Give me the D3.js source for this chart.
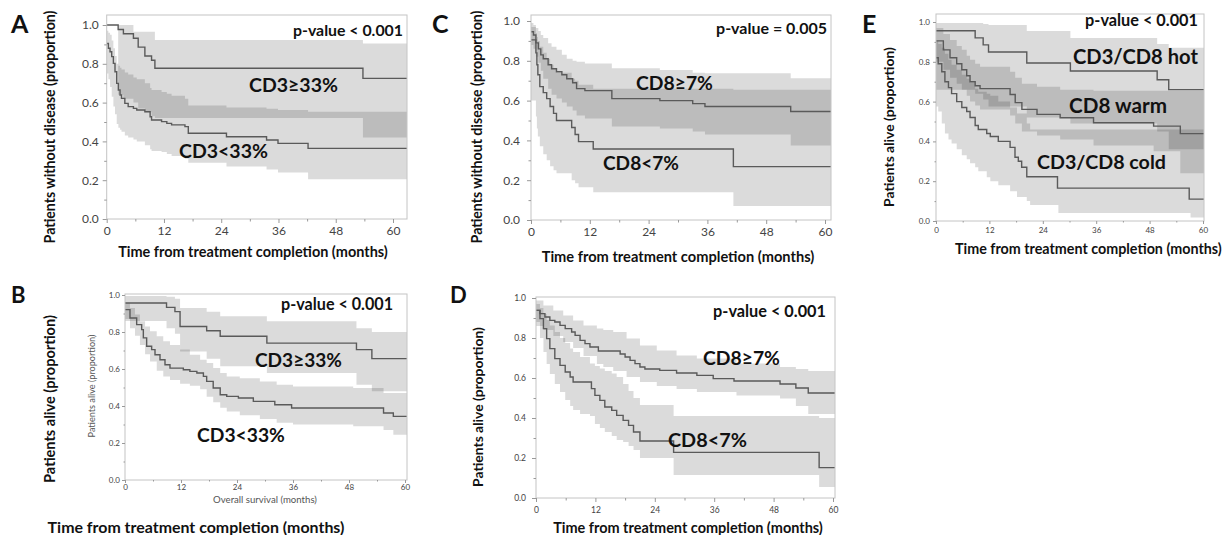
<!DOCTYPE html>
<html>
<head>
<meta charset="utf-8">
<script src="https://cdn.jsdelivr.net/npm/d3@7"></script>
<style>
  body { margin: 0; background: #fff; }
  svg { display: block; }
  text { font-family: Lato, "Open Sans", sans-serif; }
</style>
</head>
<body>
<svg id="chart" width="1223" height="535"></svg>
<script>
// Axis ticks shared by all five panels
var xTicks = [0, 12, 24, 36, 48, 60];
var xMinor = [6, 18, 30, 42, 54];
var yTicks = [0, 0.2, 0.4, 0.6, 0.8, 1.0];
var yMinor = [0.1, 0.3, 0.5, 0.7, 0.9];

/*
 * DATA (months, proportion)
 * curves: [t, S]   bands: [t, lower, upper]
 * =============================== */

// A: disease free, CD3
var aHiSurv = [[0,1.0],[2.4,0.977],[3.5,0.955],[5.6,0.932],[6.6,0.886],[8.0,0.84],[9.4,0.818],[10.1,0.777],[53.7,0.725]];
var aHiBand = [[2.4,0.64,1.0],[3.5,0.62,1.0],[5.6,0.6,0.965],[6.6,0.57,0.965],[8.0,0.55,0.965],[9.4,0.53,0.965],[10.1,0.52,0.923],[53.7,0.42,0.905]];
var aLoSurv = [[0,0.905],[0.35,0.88],[0.7,0.862],[1.05,0.837],[1.4,0.802],[1.74,0.759],[2.1,0.699],[2.44,0.665],[2.8,0.639],[3.1,0.622],[3.8,0.596],[4.5,0.579],[5.6,0.57],[6.3,0.562],[8.0,0.553],[9.1,0.527],[9.4,0.51],[11.5,0.502],[12.6,0.493],[13.6,0.485],[16.4,0.476],[17.1,0.442],[25.1,0.424],[33.5,0.407],[35.9,0.39],[42.2,0.364]];
var aLoBand = [[0,0.75,0.97],[0.35,0.72,0.96],[0.7,0.68,0.95],[1.05,0.63,0.92],[1.4,0.58,0.88],[1.74,0.54,0.84],[2.1,0.49,0.80],[2.44,0.47,0.79],[2.8,0.46,0.78],[3.1,0.45,0.77],[3.8,0.43,0.755],[4.5,0.42,0.745],[5.6,0.41,0.73],[6.3,0.4,0.72],[8.0,0.38,0.70],[9.1,0.36,0.675],[9.4,0.35,0.665],[11.5,0.345,0.655],[12.6,0.335,0.645],[13.6,0.325,0.635],[16.4,0.31,0.62],[17.1,0.29,0.585],[25.1,0.27,0.575],[33.5,0.255,0.568],[35.9,0.24,0.562],[42.2,0.205,0.553]];

// C: disease free, CD8
var cHiSurv = [[0,0.946],[0.5,0.93],[1,0.89],[1.5,0.86],[2,0.83],[2.5,0.81],[3.5,0.78],[4.2,0.76],[5.2,0.745],[6.3,0.73],[7.3,0.71],[8.5,0.69],[9.3,0.66],[11,0.65],[16.5,0.61],[26.3,0.60],[33,0.585],[35.5,0.57],[53,0.545]];
var cHiBand = [[0,0.88,0.99],[0.5,0.86,0.98],[1,0.82,0.965],[1.5,0.79,0.95],[2,0.75,0.93],[2.5,0.71,0.915],[3.5,0.66,0.888],[4.2,0.63,0.87],[5.2,0.61,0.855],[6.3,0.59,0.83],[7.3,0.57,0.81],[8.5,0.55,0.80],[9.3,0.525,0.795],[11,0.51,0.787],[16.5,0.47,0.762],[26.3,0.46,0.754],[33,0.445,0.74],[35.5,0.43,0.737],[53,0.375,0.712]];
var cLoSurv = [[0,0.905],[1.0,0.84],[1.2,0.78],[1.4,0.73],[1.8,0.67],[2.5,0.64],[3.2,0.61],[3.9,0.57],[4.6,0.536],[5.2,0.50],[8.3,0.465],[9.0,0.43],[9.7,0.394],[12.7,0.357],[41.3,0.268]];
var cLoBand = [[0,0.6,0.97],[1.0,0.52,0.94],[1.2,0.46,0.92],[1.4,0.42,0.90],[1.8,0.37,0.87],[2.5,0.33,0.84],[3.2,0.3,0.81],[3.9,0.27,0.78],[4.6,0.25,0.76],[5.2,0.235,0.74],[8.3,0.2,0.71],[9.0,0.185,0.70],[9.7,0.165,0.68],[12.7,0.14,0.66],[41.3,0.07,0.655]];

// E: overall survival, hot / warm / cold
var eHotSurv = [[0,0.956],[8.8,0.92],[10.6,0.885],[11.8,0.849],[20.4,0.794],[30.2,0.754],[49.7,0.71],[52.3,0.66]];
var eHotBand = [[0,0.66,0.995],[8.8,0.64,0.995],[10.6,0.61,0.99],[11.8,0.575,0.985],[20.4,0.52,0.955],[30.2,0.49,0.92],[49.7,0.45,0.89],[52.3,0.36,0.87]];
var eWarmSurv = [[0,0.905],[1.65,0.86],[3.15,0.82],[4.65,0.79],[5.8,0.76],[6.9,0.73],[7.65,0.70],[8.8,0.68],[9.9,0.665],[16.65,0.636],[17.8,0.595],[19.3,0.561],[22.7,0.536],[27.9,0.519],[35.4,0.494],[48.9,0.477],[54.9,0.439]];
var eWarmBand = [[0,0.80,0.97],[1.65,0.76,0.94],[3.15,0.72,0.91],[4.65,0.69,0.88],[5.8,0.66,0.86],[6.9,0.63,0.83],[7.65,0.60,0.81],[8.8,0.58,0.79],[9.9,0.56,0.775],[16.65,0.53,0.75],[17.8,0.49,0.72],[19.3,0.45,0.69],[22.7,0.43,0.675],[27.9,0.41,0.66],[35.4,0.38,0.655],[48.9,0.35,0.655],[54.9,0.24,0.655]];
var eColdSurv = [[0,0.82],[0.5,0.79],[1.3,0.75],[2,0.70],[2.8,0.67],[3.5,0.64],[4.65,0.60],[5.8,0.57],[6.9,0.55],[7.65,0.52],[8.8,0.48],[9.5,0.46],[11.4,0.44],[12.2,0.425],[14,0.40],[16.65,0.37],[17.75,0.32],[18.5,0.30],[19.25,0.27],[20.4,0.222],[27.3,0.165],[56.9,0.11]];
var eColdBand = [[0,0.575,0.905],[0.5,0.55,0.89],[1.3,0.49,0.87],[2,0.44,0.84],[2.8,0.41,0.81],[3.5,0.39,0.785],[4.65,0.36,0.76],[5.8,0.33,0.735],[6.9,0.31,0.715],[7.65,0.29,0.695],[8.8,0.27,0.665],[9.5,0.25,0.65],[11.4,0.22,0.64],[12.2,0.2,0.63],[14,0.18,0.60],[16.65,0.15,0.57],[18.2,0.12,0.54],[20.4,0.1,0.49],[21.15,0.08,0.46],[27.5,0.04,0.46],[57.2,0.017,0.46]];

// B: overall survival, CD3
var bHiSurv = [[0,0.957],[8.9,0.933],[10.7,0.91],[11.8,0.83],[17.5,0.807],[20.4,0.777],[30.4,0.74],[49.6,0.705],[52.9,0.656]];
var bHiBand = [[0,0.86,0.995],[8.9,0.82,0.99],[10.7,0.79,0.98],[11.8,0.695,0.93],[17.5,0.655,0.91],[20.4,0.615,0.885],[30.4,0.578,0.858],[49.6,0.515,0.82],[52.9,0.48,0.80]];
var bLoSurv = [[0,0.921],[1.07,0.876],[2.5,0.84],[3.57,0.813],[3.93,0.768],[4.64,0.723],[5.71,0.705],[6.43,0.677],[7.5,0.65],[8.57,0.623],[9.64,0.605],[12.5,0.596],[13.9,0.587],[15.4,0.578],[16.8,0.56],[17.5,0.533],[18.9,0.497],[20.4,0.461],[21.8,0.452],[24.3,0.443],[27.5,0.425],[32.1,0.407],[35.7,0.389],[55.4,0.362],[57.5,0.344]];
var bLoBand = [[0,0.87,0.957],[1.07,0.82,0.93],[2.14,0.78,0.894],[3.2,0.73,0.858],[4.3,0.68,0.83],[5.36,0.64,0.804],[6.8,0.59,0.777],[8.2,0.56,0.75],[9.64,0.54,0.73],[11.8,0.52,0.705],[13.9,0.51,0.677],[16.1,0.49,0.65],[17.5,0.45,0.632],[18.9,0.42,0.605],[20.4,0.39,0.578],[21.8,0.37,0.56],[24.6,0.35,0.55],[28.9,0.33,0.533],[32.5,0.31,0.515],[36,0.30,0.506],[48.9,0.29,0.497],[55.4,0.27,0.47],[57.5,0.245,0.47]];

// D: overall survival, CD8
var dHiSurv = [[0,0.938],[0.8,0.922],[1.8,0.905],[2.8,0.888],[3.8,0.88],[4.85,0.863],[5.9,0.847],[7.2,0.83],[7.9,0.813],[8.9,0.788],[9.9,0.772],[10.9,0.755],[12.6,0.735],[17,0.72],[18,0.705],[19,0.688],[20,0.672],[21,0.655],[22,0.645],[25,0.638],[28.4,0.625],[32.5,0.613],[35.8,0.597],[40,0.585],[49.3,0.57],[52.5,0.55],[55,0.525]];
var dHiBand = [[0,0.86,0.988],[1.5,0.84,0.963],[3.5,0.81,0.938],[5.5,0.78,0.913],[7.5,0.75,0.888],[9.6,0.71,0.863],[12.3,0.67,0.847],[13.6,0.655,0.84],[15.6,0.635,0.83],[18.3,0.605,0.797],[21,0.58,0.763],[24.4,0.56,0.738],[28.4,0.545,0.713],[32.5,0.53,0.697],[40.5,0.513,0.672],[49.3,0.497,0.655],[52.5,0.46,0.645],[55,0.42,0.635]];
var dLoSurv = [[0,0.938],[0.8,0.897],[1.5,0.847],[2.15,0.797],[2.8,0.747],[3.8,0.697],[4.85,0.663],[5.9,0.63],[6.9,0.605],[7.5,0.58],[11.2,0.547],[11.9,0.513],[12.9,0.488],[13.9,0.455],[15.3,0.438],[16.3,0.413],[17.6,0.388],[18.7,0.363],[19.7,0.33],[21,0.285],[27.8,0.228],[57.2,0.152]];
var dLoBand = [[0,0.88,0.97],[0.8,0.8,0.95],[1.5,0.73,0.92],[2.15,0.67,0.89],[2.8,0.62,0.863],[3.8,0.57,0.83],[4.85,0.53,0.80],[5.9,0.49,0.775],[6.9,0.46,0.747],[7.5,0.44,0.73],[8.9,0.42,0.705],[10.9,0.41,0.672],[11.9,0.37,0.66],[12.9,0.35,0.647],[13.9,0.33,0.635],[15.3,0.31,0.622],[16.3,0.29,0.605],[17.6,0.28,0.57],[18.7,0.26,0.535],[19.7,0.24,0.50],[21,0.20,0.465],[27.8,0.115,0.41],[57.2,0.055,0.40]];

/*
 * PANEL LAYOUT
 * =============================== */
var panels = [
  { id: 'A', left: 106.7, right: 407, x60: 393, y0: 219, y1: 25, top: 15,
    bands: [aHiBand, aLoBand], curves: [aHiSurv, aLoSurv],
    tickFont: 12, xPad: 3, yPad: 4, tick: 4 },
  { id: 'C', left: 531, right: 831, x60: 825, y0: 220, y1: 21, top: 15,
    bands: [cHiBand, cLoBand], curves: [cHiSurv, cLoSurv],
    tickFont: 12, xPad: 3, yPad: 7, tick: 4 },
  { id: 'E', left: 936, right: 1204, x60: 1203, y0: 221, y1: 22, top: 14,
    bands: [eHotBand, eWarmBand, eColdBand], curves: [eHotSurv, eWarmSurv, eColdSurv],
    tickFont: 8, xPad: 3, yPad: 3, tick: 3 },
  { id: 'B', left: 125, right: 407, x60: 405, y0: 480, y1: 295, top: 294,
    bands: [bHiBand, bLoBand], curves: [bHiSurv, bLoSurv],
    tickFont: 8, xPad: 1, yPad: 2, tick: 3 },
  { id: 'D', left: 536, right: 835, x60: 833, y0: 498, y1: 298, top: 297,
    bands: [dHiBand, dLoBand], curves: [dHiSurv, dLoSurv],
    tickFont: 8.5, xPad: 5, yPad: 6, tick: 4 }
];

// Text: x, y = anchor point (baseline); w = target width in px
var labels = [
  { t: 'A', x: 11, y: 33, size: 25, bold: true },
  { t: 'Patients without disease (proportion)', x: 55, y: 127, rot: true, w: 233, bold: true },
  { t: 'Time from treatment completion (months)', x: 253, y: 257, w: 270, anchor: 'middle', bold: true },
  { t: 'p-value < 0.001', x: 403, y: 36, w: 110, anchor: 'end', bold: true },
  { t: 'CD3\u226533%', x: 249, y: 92, w: 89, bold: true },
  { t: 'CD3<33%', x: 179, y: 158, w: 89, bold: true },

  { t: 'C', x: 432, y: 33, size: 25, bold: true },
  { t: 'Patients without disease (proportion)', x: 482, y: 127, rot: true, w: 233, bold: true },
  { t: 'Time from treatment completion (months)', x: 678, y: 262, w: 273, anchor: 'middle', bold: true },
  { t: 'p-value = 0.005', x: 827, y: 34, w: 111, anchor: 'end', bold: true },
  { t: 'CD8\u22657%', x: 636, y: 90, w: 77, bold: true },
  { t: 'CD8<7%', x: 603, y: 170, w: 76, bold: true },

  { t: 'E', x: 862, y: 33, size: 25, bold: true },
  { t: 'Patients alive (proportion)', x: 894, y: 127, rot: true, w: 160, bold: true },
  { t: 'Time from treatment completion (months)', x: 955, y: 254, w: 267, bold: true },
  { t: 'p-value < 0.001', x: 1198, y: 26, w: 113, anchor: 'end', bold: true },
  { t: 'CD3/CD8 hot', x: 1073, y: 64, w: 125, bold: true },
  { t: 'CD8 warm', x: 1069, y: 113, w: 98, bold: true },
  { t: 'CD3/CD8 cold', x: 1037, y: 169, w: 129, bold: true },

  { t: 'B', x: 11, y: 303, size: 22, bold: true },
  { t: 'Patients alive (proportion)', x: 55, y: 399, rot: true, w: 168, bold: true },
  { t: 'Patients alive (proportion)', x: 95, y: 386, rot: true, w: 103, color: '#555' },
  { t: 'Overall survival (months)', x: 265, y: 503, w: 104, anchor: 'middle', color: '#555' },
  { t: 'Time from treatment completion (months)', x: 196, y: 533, w: 297, anchor: 'middle', bold: true },
  { t: 'p-value < 0.001', x: 393, y: 310, w: 112, anchor: 'end', bold: true },
  { t: 'CD3\u226533%', x: 255, y: 367, w: 87, bold: true },
  { t: 'CD3<33%', x: 197, y: 442, w: 88, bold: true },

  { t: 'D', x: 450, y: 303, size: 22, bold: true },
  { t: 'Patients alive  (proportion)', x: 483, y: 407, rot: true, w: 160, bold: true },
  { t: 'Time from treatment completion (months)', x: 688, y: 533, w: 270, anchor: 'middle', bold: true },
  { t: 'p-value < 0.001', x: 826, y: 317, w: 113, anchor: 'end', bold: true },
  { t: 'CD8\u22657%', x: 703, y: 365, w: 77, bold: true },
  { t: 'CD8<7%', x: 668, y: 447, w: 79, bold: true }
];

var svg = d3.select('#chart');

var drawPanel = function(p) {
  var xmax = 60 * (p.right - p.left) / (p.x60 - p.left);
  var x = d3.scaleLinear().domain([0, xmax]).range([p.left, p.right]);
  var y = d3.scaleLinear().domain([0, 1]).range([p.y0, p.y1]);
  var ymax = y.invert(p.top);
  var g = svg.append('g');

  g.append('clipPath').attr('id', 'clip' + p.id).append('rect')
    .attr('x', x(0)).attr('y', y(ymax))
    .attr('width', x(xmax) - x(0)).attr('height', y(0) - y(ymax));
  var plot = g.append('g').attr('clip-path', 'url(#clip' + p.id + ')');

  // carry the last step out to the right edge
  var ext = function(arr) {
    var last = arr[arr.length - 1];
    return arr.concat([[xmax].concat(last.slice(1))]);
  };
  var area = d3.area().curve(d3.curveStepAfter)
    .x(function(d) { return x(d[0]); })
    .y0(function(d) { return y(d[1]); })
    .y1(function(d) { return y(d[2]); });
  var line = d3.line().curve(d3.curveStepAfter)
    .x(function(d) { return x(d[0]); })
    .y(function(d) { return y(d[1]); });

  p.bands.forEach(function(b) {
    plot.append('path').attr('d', area(ext(b)))
      .attr('fill', '#000').attr('fill-opacity', 0.14);
  });
  p.curves.forEach(function(c) {
    plot.append('path').attr('d', line(ext(c)))
      .attr('fill', 'none').attr('stroke', '#5a5a5a').attr('stroke-width', 1.4);
  });

  g.append('rect')
    .attr('x', x(0)).attr('y', y(ymax))
    .attr('width', x(xmax) - x(0)).attr('height', y(0) - y(ymax))
    .attr('fill', 'none').attr('stroke', '#c4c4c4').attr('stroke-width', 1);

  var styleAxis = function(sel, size) {
    sel.select('.domain').remove();
    sel.selectAll('line').attr('stroke', '#999');
    sel.selectAll('text').attr('fill', '#444')
      .style('font-size', size + 'px').style('font-family', 'Lato, "Open Sans", sans-serif');
  };

  g.append('g').attr('transform', 'translate(0,' + p.y0 + ')')
    .call(d3.axisBottom(x).tickValues(xTicks).tickSize(p.tick).tickPadding(p.xPad).tickFormat(d3.format('d')))
    .call(styleAxis, p.tickFont);
  g.append('g').attr('transform', 'translate(0,' + p.y0 + ')')
    .call(d3.axisBottom(x).tickValues(xMinor).tickSize(p.tick - 1.5).tickFormat(''))
    .call(styleAxis, p.tickFont);
  g.append('g').attr('transform', 'translate(' + p.left + ',0)')
    .call(d3.axisLeft(y).tickValues(yTicks).tickSize(p.tick).tickPadding(p.yPad).tickFormat(d3.format('.1f')))
    .call(styleAxis, p.tickFont);
  g.append('g').attr('transform', 'translate(' + p.left + ',0)')
    .call(d3.axisLeft(y).tickValues(yMinor).tickSize(p.tick - 1.5).tickFormat(''))
    .call(styleAxis, p.tickFont);
};

panels.forEach(drawPanel);

// Labels, sized so each one spans the width it has in the figure
labels.forEach(function(l) {
  var base = l.size || 14;
  var t = svg.append('text').text(l.t)
    .attr('text-anchor', l.rot ? 'middle' : (l.anchor || 'start'))
    .attr('fill', l.color || '#111')
    .style('font-weight', l.bold ? 700 : 400)
    .style('font-size', base + 'px');
  if (l.rot) {
    t.attr('transform', 'translate(' + l.x + ',' + l.y + ') rotate(-90)');
  } else {
    t.attr('x', l.x).attr('y', l.y);
  }
  if (l.w) {
    var len = t.node().getComputedTextLength();
    t.style('font-size', (base * l.w / len) + 'px');
  }
});
</script>
</body>
</html>
